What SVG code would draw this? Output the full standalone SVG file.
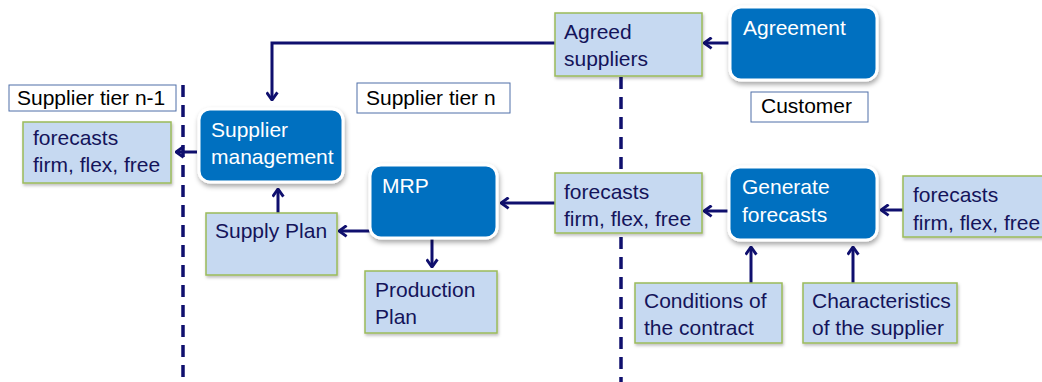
<svg xmlns="http://www.w3.org/2000/svg" width="1042" height="382" viewBox="0 0 1042 382">
<style>
.dark{fill:#0070c0;stroke:#ffffff;stroke-width:3;filter:url(#sh)}
.light{fill:#c6d9f1;stroke:#9bbb59;stroke-width:1.5;filter:url(#sh2)}
.lab{fill:#ffffff;stroke:#4f6fa8;stroke-width:1}
.wt{font-family:"Liberation Sans",Arial,sans-serif;font-size:21px;fill:#ffffff}
.nt{font-family:"Liberation Sans",Arial,sans-serif;font-size:21px;fill:#14145a}
.bt{font-family:"Liberation Sans",Arial,sans-serif;font-size:21px;fill:#000000}
.con{fill:none;stroke:#0f0f6e;stroke-width:3;marker-end:url(#ah)}
.sep{fill:none;stroke:#0f0f6e;stroke-width:3.5;stroke-dasharray:12 8}
</style>
<defs>
<filter id="sh" x="-20%" y="-20%" width="140%" height="150%">
<feDropShadow dx="1" dy="3" stdDeviation="2.5" flood-color="#000" flood-opacity="0.35"/>
</filter>
<filter id="sh2" x="-20%" y="-20%" width="140%" height="150%">
<feDropShadow dx="1" dy="2" stdDeviation="1.5" flood-color="#000" flood-opacity="0.25"/>
</filter>
<marker id="ah" viewBox="0 0 10 12" refX="9" refY="6" markerWidth="11" markerHeight="13" markerUnits="userSpaceOnUse" orient="auto">
<path d="M2,1 L9,6 L2,11" fill="none" stroke="#0f0f6e" stroke-width="2.7"/>
</marker>
</defs>
<rect width="1042" height="382" fill="#ffffff"/>
<g id="separators">
<path class="sep" d="M183,85 L183,382"/>
<path class="sep" d="M621,77 L621,382"/>
</g>
<g id="connectors">
<path class="con" d="M730,43 L704,43"/>
<path class="con" d="M555,43 L272,43 L272,100"/>
<path class="con" d="M197,152 L176,152"/>
<path class="con" d="M278,213 L278,189"/>
<path class="con" d="M370,231 L339,231"/>
<path class="con" d="M432,238 L432,267"/>
<path class="con" d="M555,203 L501,203"/>
<path class="con" d="M729,211 L704,211"/>
<path class="con" d="M903,210 L881,210"/>
<path class="con" d="M751,283 L751,247"/>
<path class="con" d="M853,283 L853,247"/>
</g>
<g id="label-tier-n-1"><rect class="lab" x="9" y="85" width="167" height="26"/><text class="bt" x="17" y="105">Supplier tier n-1</text></g>
<g id="label-tier-n"><rect class="lab" x="357" y="83" width="153" height="30"/><text class="bt" x="366" y="105">Supplier tier n</text></g>
<g id="label-customer"><rect class="lab" x="751" y="92" width="117" height="30"/><text class="bt" x="761" y="113">Customer</text></g>
<g id="forecasts-left"><rect class="light" x="23" y="122" width="148" height="61"/><text class="nt" x="33" y="145">forecasts</text><text class="nt" x="33" y="172">firm, flex, free</text></g>
<g id="supplier-management"><rect class="dark" x="199" y="109" width="144" height="73" rx="11"/><text class="wt" x="211" y="137">Supplier</text><text class="wt" x="211" y="164">management</text></g>
<g id="agreed-suppliers"><rect class="light" x="555" y="13" width="147" height="63"/><text class="nt" x="564" y="39">Agreed</text><text class="nt" x="564" y="66">suppliers</text></g>
<g id="agreement"><rect class="dark" x="730" y="7" width="147" height="73" rx="11"/><text class="wt" x="743" y="35">Agreement</text></g>
<g id="supply-plan"><rect class="light" x="206" y="213" width="131" height="62"/><text class="nt" x="215" y="238">Supply Plan</text></g>
<g id="mrp"><rect class="dark" x="370" y="165" width="127" height="73" rx="11"/><text class="wt" x="382" y="193">MRP</text></g>
<g id="production-plan"><rect class="light" x="365" y="271" width="132" height="62"/><text class="nt" x="375" y="297">Production</text><text class="nt" x="375" y="324">Plan</text></g>
<g id="forecasts-mid"><rect class="light" x="555" y="173" width="147" height="60"/><text class="nt" x="564" y="199">forecasts</text><text class="nt" x="564" y="226">firm, flex, free</text></g>
<g id="generate-forecasts"><rect class="dark" x="729" y="167" width="148" height="73" rx="11"/><text class="wt" x="742" y="194">Generate</text><text class="wt" x="742" y="222">forecasts</text></g>
<g id="forecasts-right"><rect class="light" x="903" y="176" width="150" height="61"/><text class="nt" x="913" y="202">forecasts</text><text class="nt" x="913" y="230">firm, flex, free</text></g>
<g id="conditions"><rect class="light" x="635" y="283" width="147" height="60"/><text class="nt" x="644" y="308">Conditions of</text><text class="nt" x="644" y="335">the contract</text></g>
<g id="characteristics"><rect class="light" x="803" y="283" width="154" height="60"/><text class="nt" x="812" y="308">Characteristics</text><text class="nt" x="812" y="335">of the supplier</text></g>
</svg>
